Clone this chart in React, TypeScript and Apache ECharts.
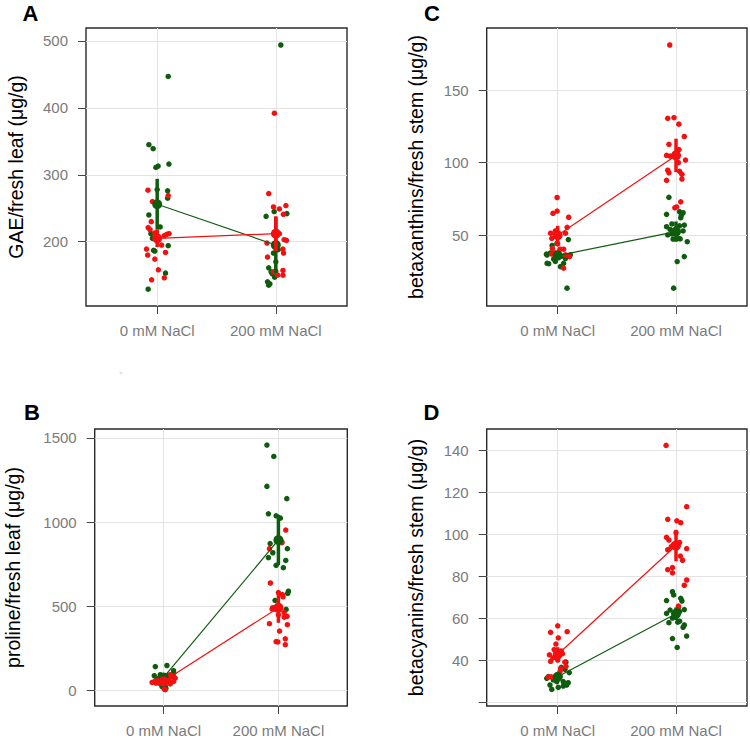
import React, { useEffect, useRef } from 'react';
import * as echarts from 'echarts';

// ---------- data ----------
const categories = ['0 mM NaCl', '200 mM NaCl'];
const yTitles = [
  'GAE/fresh leaf (μg/g)',
  'proline/fresh leaf (μg/g)',
  'betaxanthins/fresh stem (μg/g)',
  'betacyanins/fresh stem (μg/g)',
];
const panelLetters = ['A', 'B', 'C', 'D'];

// y tick labels per panel
const yTicksA = [200, 300, 400, 500];
const yTicksB = [0, 500, 1000, 1500];
const yTicksC = [50, 100, 150];
const yTicksD = [40, 60, 80, 100, 120, 140];
const yTickMarksD = [20, 40, 60, 80, 100, 120, 140];

// points: [jitter, value]
const A_green0 = [[0.093, 447], [-0.07, 345], [-0.034, 339], [-0.011, 311], [0.008, 313], [0.099, 316], [0.088, 276], [0.0, 278], [0.088, 265], [-0.07, 240], [0.025, 222], [-0.053, 212], [-0.03, 187], [-0.02, 186], [0.093, 194], [0.07, 153], [-0.076, 129], [-0.04, 205]];
const A_red0 = [[-0.078, 277], [0.093, 269], [-0.04, 260], [-0.05, 230], [-0.076, 221], [-0.06, 218], [-0.02, 213], [0.08, 211], [0.1, 212], [0.06, 209], [0.037, 195], [-0.09, 189], [-0.08, 180], [0.07, 184], [-0.02, 174], [0.01, 158], [-0.047, 143], [0.06, 146]];
const A_green200 = [[0.042, 494], [-0.082, 238], [-0.014, 245], [0.093, 242], [-0.02, 183], [-0.06, 161], [-0.04, 155], [-0.01, 147], [-0.03, 152], [-0.07, 140], [-0.06, 135], [-0.05, 137], [0.02, 188], [0.0, 170], [-0.005, 192]];
const A_red200 = [[-0.012, 392], [-0.06, 272], [-0.02, 252], [0.03, 249], [0.085, 254], [0.064, 241], [0.07, 203], [0.09, 202], [-0.075, 198], [0.06, 189], [0.065, 183], [-0.07, 177], [0.0, 156], [-0.02, 155], [0.06, 157], [0.06, 150], [0.015, 150], [0.03, 212]];

const B_green0 = [[-0.072, 140], [0.029, 146], [0.087, 115], [-0.029, 91], [0.0, 81], [0.043, 87], [-0.081, 85], [0.029, 57], [0.087, 77], [-0.014, 21], [0.014, 25], [0.087, 101], [-0.043, 70], [0.06, 45], [-0.06, 60], [0.02, 10]];
const B_red0 = [[-0.077, 51], [-0.066, 41], [-0.049, 57], [0.006, 6], [0.058, 36], [0.014, 56], [0.081, 77], [0.101, 71], [0.058, 91], [-0.1, 45], [0.015, 2], [0.03, 67], [0.087, 51], [-0.02, 62], [0.045, 60], [-0.035, 40]];
const B_green200 = [[-0.1, 1458], [-0.04, 1390], [-0.1, 1212], [0.073, 1139], [-0.087, 1049], [-0.02, 1037], [0.017, 1023], [-0.072, 872], [0.03, 877], [-0.049, 817], [-0.087, 788], [0.078, 841], [0.064, 771], [-0.02, 742], [0.043, 728], [0.087, 588], [0.081, 575], [-0.029, 533], [0.067, 480]];
const B_red200 = [[0.064, 952], [0.03, 881], [-0.078, 841], [-0.07, 637], [0.0, 580], [0.035, 568], [0.04, 555], [-0.05, 490], [-0.055, 482], [-0.02, 478], [0.05, 460], [0.0, 448], [0.05, 434], [0.075, 438], [-0.078, 395], [0.078, 389], [0.01, 351], [-0.005, 286], [-0.02, 288], [0.06, 305], [0.06, 270]];

const C_green0 = [[0.09, 47], [-0.006, 44.5], [-0.047, 43], [-0.095, 37], [-0.09, 36.4], [-0.09, 30.7], [-0.076, 30.4], [0.05, 30.7], [0.023, 28.4], [0.079, 13.6], [0.107, 36.5], [-0.034, 33.6], [0.035, 35.6], [-0.062, 37.8], [0.008, 38.3], [0.065, 34], [-0.02, 32]];
const C_red0 = [[-0.005, 76], [-0.04, 65.1], [-0.005, 66.7], [0.093, 62.4], [0.08, 55.5], [-0.06, 51.4], [-0.05, 47.9], [0.066, 51.4], [0.02, 40.4], [0.05, 40.4], [-0.05, 37.1], [0.065, 36.5], [0.1, 35.3], [0.05, 27.3], [-0.045, 41], [0.0, 44], [-0.025, 38], [-0.02, 53]];
const C_green200 = [[-0.06, 76.1], [-0.08, 64.4], [0.03, 66.2], [0.06, 65.5], [0.045, 63.8], [0.04, 62], [-0.08, 55.9], [-0.035, 57.8], [0.03, 56.5], [0.07, 57], [-0.005, 52], [-0.035, 50.9], [-0.07, 50.2], [-0.025, 47.4], [0.035, 47.5], [0.015, 47.8], [0.095, 45.6], [0.07, 35.3], [0.01, 31.9], [-0.02, 13.6], [0.06, 53], [-0.05, 54]];
const C_red200 = [[-0.053, 181], [-0.07, 130.5], [-0.017, 131], [0.024, 126.5], [0.07, 118], [-0.06, 112.6], [0.025, 109], [-0.05, 104.5], [0.0, 106], [0.08, 101.8], [-0.08, 105], [-0.07, 94.8], [-0.06, 93], [0.03, 94], [0.05, 92], [0.05, 88.7], [-0.08, 87.8], [0.04, 73], [0.005, 69.5], [-0.01, 68.9], [0.02, 100]];

const D_green0 = [[0.061, 35.6], [0.098, 34], [-0.092, 31.3], [-0.079, 32.1], [0.019, 32.1], [-0.037, 30.5], [-0.008, 29.7], [0.047, 29.7], [0.089, 29.2], [-0.065, 28.1], [-0.05, 26], [0.005, 27], [0.047, 27.6], [0.076, 28.1], [0.03, 36.5], [0.07, 39]];
const D_red0 = [[0.0, 56.3], [-0.06, 53.2], [0.08, 53.5], [0.005, 50.5], [-0.015, 47.6], [-0.07, 42.5], [0.03, 44.3], [-0.06, 39.4], [0.06, 39], [-0.04, 41], [0.025, 35.9], [0.02, 34.5], [-0.08, 31.9], [-0.055, 32], [0.04, 43], [-0.03, 45], [0.07, 37], [0.0, 40]];
const D_green200 = [[-0.03, 72.5], [-0.02, 71], [0.04, 69.4], [0.05, 68.1], [-0.08, 68.3], [-0.05, 63.8], [0.03, 63], [-0.08, 62.2], [-0.06, 57.8], [0.015, 58], [0.03, 58.5], [0.07, 56.7], [0.06, 55.6], [0.09, 51.4], [-0.03, 50.2], [0.01, 46], [0.07, 64], [-0.03, 60], [0.0, 61], [0.02, 65]];
const D_red200 = [[-0.084, 142.2], [0.09, 113], [-0.07, 107], [0.007, 106.3], [0.04, 105.4], [-0.08, 98.4], [-0.06, 97.1], [0.0, 100.6], [-0.07, 92.5], [0.09, 93], [0.037, 89.5], [0.055, 87.5], [-0.07, 83], [-0.03, 84], [-0.03, 81.5], [0.09, 78.1], [0.07, 75.6], [0.02, 65.7], [-0.02, 95], [0.03, 96], [-0.04, 94]];

// means [0 mM, 200 mM] and error half-widths
const A_greenMean = [256, 195]; const A_greenErr = [38, 42];
const A_redMean = [205, 212]; const A_redErr = [13, 26];
const B_greenMean = [75, 893]; const B_greenErr = [14, 150];
const B_redMean = [52, 490]; const B_redErr = [10, 90];
const C_greenMean = [36, 52.5]; const C_greenErr = [3, 7];
const C_redMean = [50, 105]; const C_redErr = [6.5, 11.5];
const D_greenMean = [32, 62]; const D_greenErr = [2, 3];
const D_redMean = [42.6, 94.5]; const D_redErr = [3.5, 7.5];

// ---------- layout / style ----------
const GREEN = '#0f5c0f';
const RED = '#f41010';
const FONT = '"Liberation Sans", Arial, Helvetica, sans-serif';

const panels = [
  { box: { left: 86, top: 28, width: 261, height: 278 }, yMin: 103.9, yMax: 519.4, step: 100, labels: yTicksA, marks: yTicksA, gap: 60,
    g0: A_green0, g1: A_green200, r0: A_red0, r1: A_red200, gm: A_greenMean, ge: A_greenErr, rm: A_redMean, re: A_redErr, letter: [22.5, 2.5] },
  { box: { left: 94.7, top: 429, width: 252.6, height: 277.3 }, yMin: -95, yMax: 1553.5, step: 500, labels: yTicksB, marks: yTicksB, gap: 72,
    g0: B_green0, g1: B_green200, r0: B_red0, r1: B_red200, gm: B_greenMean, ge: B_greenErr, rm: B_redMean, re: B_redErr, letter: [24, 401] },
  { box: { left: 486.7, top: 28, width: 260.3, height: 278 }, yMin: 1.3, yMax: 192.7, step: 50, labels: yTicksC, marks: yTicksC, gap: 61,
    g0: C_green0, g1: C_green200, r0: C_red0, r1: C_red200, gm: C_greenMean, ge: C_greenErr, rm: C_redMean, re: C_redErr, letter: [424, 2.5] },
  { box: { left: 486.7, top: 429, width: 260.3, height: 277.3 }, yMin: 18.1, yMax: 150, step: 20, labels: yTicksD, marks: yTickMarksD, gap: 61,
    g0: D_green0, g1: D_green200, r0: D_red0, r1: D_red200, gm: D_greenMean, ge: D_greenErr, rm: D_redMean, re: D_redErr, letter: [423.5, 401] },
];

function pts(p0: number[][], p1: number[][]) {
  return p0.map(([j, v]) => [0 + j, v]).concat(p1.map(([j, v]) => [1 + j, v]));
}

function buildOption() {
  const grid: any[] = [];
  const xAxis: any[] = [];
  const yAxis: any[] = [];
  const series: any[] = [];
  panels.forEach((p, i) => {
    grid.push({ ...p.box, show: true, borderColor: '#2a2a2a', borderWidth: 1.4, backgroundColor: 'transparent', containLabel: false });
    xAxis.push({
      type: 'value', gridIndex: i, min: -0.6, max: 1.6, minInterval: 1, maxInterval: 1, position: 'bottom',
      axisLine: { show: false, onZero: false },
      axisTick: { show: true, inside: false, length: 8, lineStyle: { color: '#444', width: 1 }, customValues: [0, 1] },
      axisLabel: { show: true, customValues: [0, 1], margin: 17, color: '#7a7a7a', fontSize: 15, fontFamily: FONT,
        formatter: (v: number) => (Math.abs(v - Math.round(v)) < 1e-6 && categories[Math.round(v)] !== undefined ? categories[Math.round(v)] : '') },
      splitLine: { show: true, lineStyle: { color: '#e3e3e3', width: 1 } },
    });
    const labels = p.labels;
    yAxis.push({
      type: 'value', gridIndex: i, min: p.yMin, max: p.yMax, minInterval: p.step, maxInterval: p.step, position: 'left',
      name: yTitles[i], nameLocation: 'middle', nameGap: p.gap,
      nameTextStyle: { color: '#000', fontSize: 19.5, fontFamily: FONT },
      axisLine: { show: false, onZero: false },
      axisTick: { show: true, inside: false, length: 8, lineStyle: { color: '#444', width: 1 }, customValues: p.marks },
      axisLabel: { show: true, customValues: labels, margin: 18, color: '#7a7a7a', fontSize: 15, fontFamily: FONT,
        formatter: (v: number) => (labels.some((t) => Math.abs(t - v) < 1e-6) ? String(v) : '') },
      splitLine: { show: true, lineStyle: { color: '#e3e3e3', width: 1 } },
    });
    series.push({ type: 'scatter', xAxisIndex: i, yAxisIndex: i, data: pts(p.g0, p.g1), symbolSize: 5.5, itemStyle: { color: GREEN, opacity: 1 }, z: 2, silent: true });
    series.push({ type: 'scatter', xAxisIndex: i, yAxisIndex: i, data: pts(p.r0, p.r1), symbolSize: 5.5, itemStyle: { color: RED, opacity: 1 }, z: 3, silent: true });
    const bars = (means: number[], errs: number[], color: string, z: number) => ({
      type: 'custom', xAxisIndex: i, yAxisIndex: i, z, silent: true,
      data: means.map((m, k) => [k, m, errs[k]]),
      encode: { x: 0, y: 1 },
      renderItem: (_params: any, api: any) => {
        const x = api.value(0); const m = api.value(1); const e = api.value(2);
        const a = api.coord([x, m - e]); const b = api.coord([x, m + e]);
        return { type: 'line', shape: { x1: a[0], y1: a[1], x2: b[0], y2: b[1] }, style: { stroke: color, lineWidth: 3.5 } };
      },
    });
    const meanLine = (means: number[], color: string, z: number) => ({
      type: 'line', xAxisIndex: i, yAxisIndex: i, z, silent: true,
      data: means.map((m, k) => [k, m]),
      symbol: 'circle', symbolSize: 10, showSymbol: true,
      itemStyle: { color }, lineStyle: { color, width: 1.2 },
    });
    series.push(bars(p.gm, p.ge, GREEN, 4));
    series.push(meanLine(p.gm, GREEN, 4));
    series.push(bars(p.rm, p.re, RED, 5));
    series.push(meanLine(p.rm, RED, 5));
  });
  const graphic: any[] = panels.map((p, i) => ({
    type: 'text', x: p.letter[0], y: p.letter[1],
    style: { text: panelLetters[i], fill: '#000', font: `bold 22px ${FONT}`, textVerticalAlign: 'top' },
  }));
  graphic.push({ type: 'circle', shape: { cx: 121, cy: 373, r: 1.5 }, style: { fill: '#e2e2e2' } });
  return { animation: false, backgroundColor: '#fff', textStyle: { fontFamily: FONT }, grid, xAxis, yAxis, series, graphic };
}

export default function App() {
  const ref = useRef<HTMLDivElement>(null);
  useEffect(() => {
    if (!ref.current) return;
    const chart = echarts.init(ref.current, undefined, { renderer: 'svg' });
    chart.setOption(buildOption() as any);
    return () => chart.dispose();
  }, []);
  return <div ref={ref} style={{ position: 'absolute', left: 0, top: 0, width: 750, height: 738 }} />;
}
